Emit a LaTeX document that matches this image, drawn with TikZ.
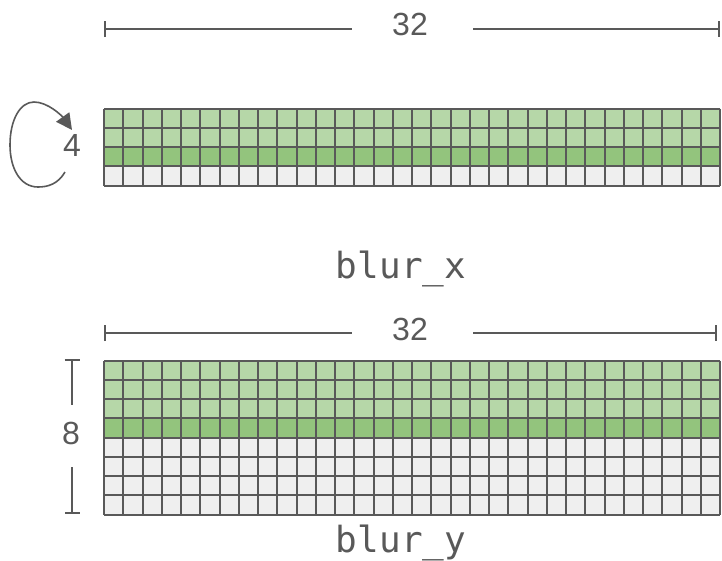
\documentclass[tikz,border=0pt]{standalone}
\usepackage{fontspec}
\setmainfont{Liberation Sans}
\newfontfamily\codefont{DejaVu Sans Mono}
\usetikzlibrary{arrows.meta,calc}
\definecolor{ink}{HTML}{595959}
\definecolor{lgreen}{HTML}{B6D7A8}
\definecolor{dgreen}{HTML}{93C47D}
\definecolor{lgray}{HTML}{EFEFEF}
\tikzset{
  gridline/.style={draw=ink,line width=2pt},
  dimline/.style={draw=ink,line width=1.6pt},
  numlabel/.style={text=ink,font=\fontsize{32}{32}\selectfont,inner sep=0pt},
  codelabel/.style={text=ink,font=\codefont\fontsize{36}{36}\selectfont,inner sep=0pt,anchor=base},
}
\begin{document}
\begin{tikzpicture}[x=1pt,y=-1pt]
\useasboundingbox (0,0) rectangle (722,560);
% ---------- top grid ----------
\fill[lgreen] (104,108.5) rectangle (720,147);
\fill[dgreen] (104,147) rectangle (720,166.25);
\fill[lgray] (104,166.25) rectangle (720,185.5);
\foreach \i in {0,...,32} \draw[gridline] ({104+\i*19.25},108.5) -- ({104+\i*19.25},185.5);
\foreach \j in {0,...,4} \draw[gridline] (104,{108.5+\j*19.25}) -- (720,{108.5+\j*19.25});
% ---------- bottom grid ----------
\fill[lgreen] (104,360.5) rectangle (720,418.25);
\fill[dgreen] (104,418.25) rectangle (720,437.5);
\fill[lgray] (104,437.5) rectangle (720,514.5);
\foreach \i in {0,...,32} \draw[gridline] ({104+\i*19.25},360.5) -- ({104+\i*19.25},514.5);
\foreach \j in {0,...,8} \draw[gridline] (104,{360.5+\j*19.25}) -- (720,{360.5+\j*19.25});
% ---------- top dimension ----------
\node[numlabel] (w1) at (410,24) {32};
\coordinate (w1l) at (104,29);
\coordinate (w1r) at (720,29);
\draw[dimline,{Bar[width=16pt]}-] (w1l) -- (352,29);
\draw[dimline,-{Bar[width=16pt]}] (473,29) -- (w1r);
% ---------- loop ----------
\node[numlabel] (n4) at (72,145) {4};
\coordinate (ls) at (65,172);
\coordinate (le) at (72,130);
\draw[ink,line width=1.6pt,-{Triangle[length=16pt,width=16pt]}]
  (ls) .. controls (58,184) and (48,187) .. (38,187)
       .. controls (20,187) and (10,168) .. (10,145)
       .. controls (10,120) and (20,102) .. (34,102)
       .. controls (48,102) and (62,116) .. (le);
% ---------- labels ----------
\node[codelabel] (bx) at (401,278) {blur\_x};
\node[codelabel] (by) at (401,552) {blur\_y};
% ---------- bottom dimension ----------
\node[numlabel] (w2) at (410,329) {32};
\coordinate (w2l) at (104,333);
\coordinate (w2r) at (717,333);
\draw[dimline,{Bar[width=16pt]}-] (w2l) -- (352,333);
\draw[dimline,-{Bar[width=16pt]}] (473,333) -- (w2r);
% ---------- height dimension ----------
\node[numlabel] (h8) at (71,433) {8};
\coordinate (h8t) at (72,359);
\coordinate (h8b) at (72,514);
\draw[dimline,{Bar[width=15pt]}-] (h8t) -- (72,405);
\draw[dimline,-{Bar[width=15pt]}] (72,467) -- (h8b);
\end{tikzpicture}
\end{document}
